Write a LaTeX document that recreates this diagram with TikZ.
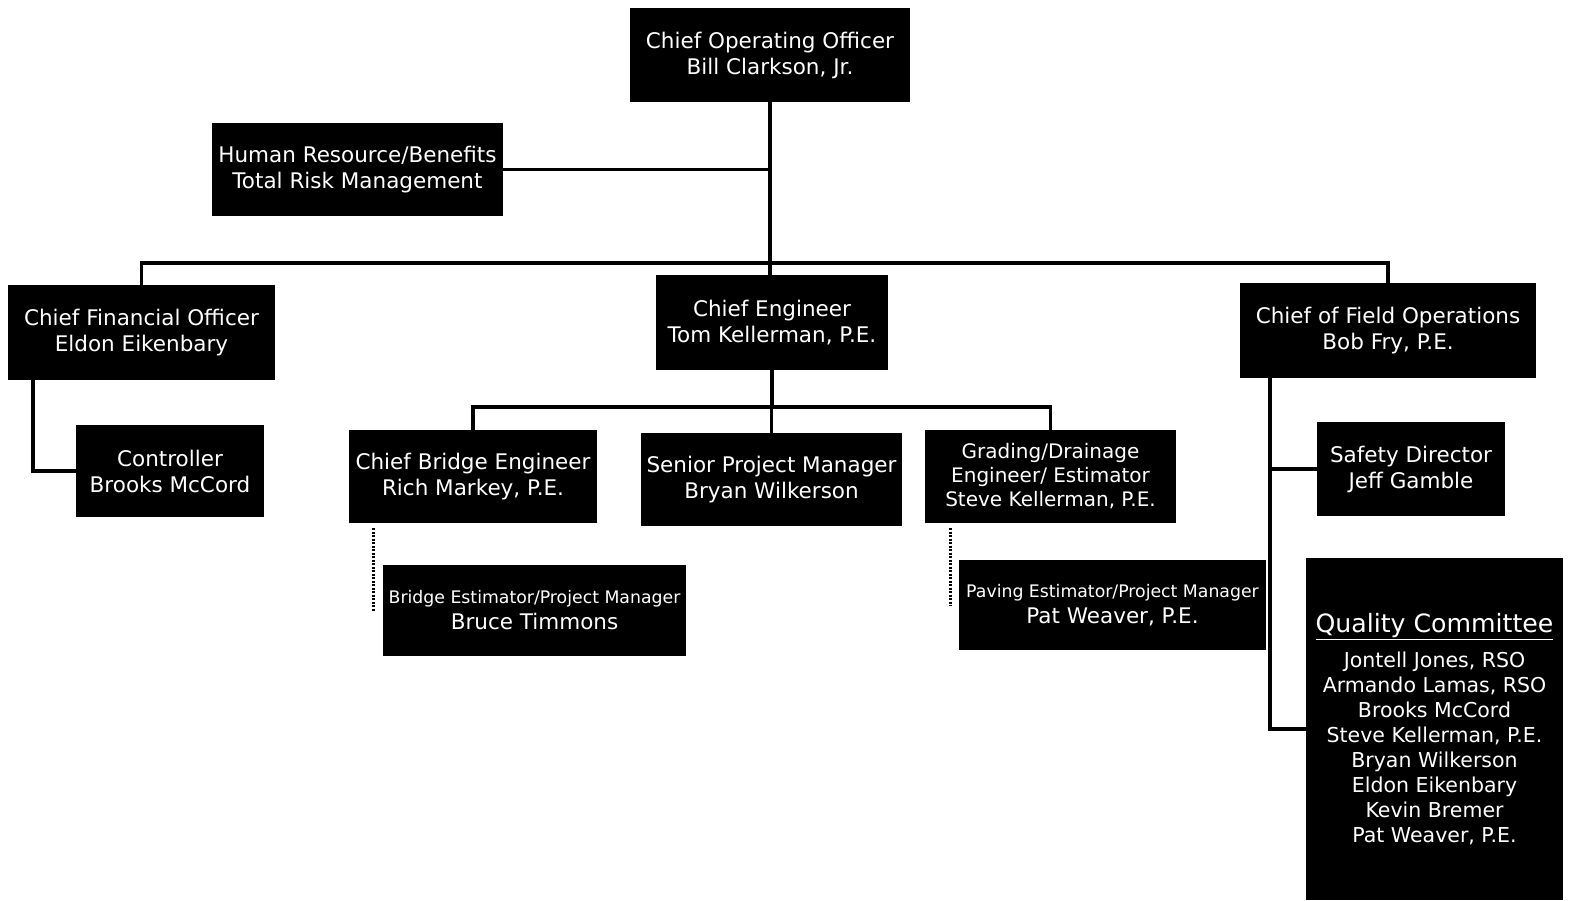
\documentclass[tikz,border=0pt]{standalone}
\usepackage{fontspec}
\setmainfont{DejaVu Sans}
\begin{document}
\begin{tikzpicture}[x=1pt,y=-1pt,
  box/.style={fill=black,text=white,align=center,inner sep=0pt,font=\fontsize{21.5}{26}\selectfont},
  conn/.style={line width=3.5pt},
  dotconn/.style={line width=3pt,dash pattern=on 2pt off 1.5pt}]
\useasboundingbox[fill=white] (0,0) rectangle (1570,900);
\node[box,minimum width=280,minimum height=94] (coo) at (770,55) {Chief Operating Officer\\Bill Clarkson, Jr.};
\node[box,minimum width=291,minimum height=93] (hr) at (357.5,169.5) {Human Resource/Benefits\\Total Risk Management};
\node[box,minimum width=267,minimum height=95] (cfo) at (141.5,332.5) {Chief Financial Officer\\Eldon Eikenbary};
\node[box,minimum width=232,minimum height=95] (ce) at (772,322.5) {Chief Engineer\\Tom Kellerman, P.E.};
\node[box,minimum width=296,minimum height=95] (cfd) at (1388,330.5) {Chief of Field Operations\\Bob Fry, P.E.};
\node[box,minimum width=188,minimum height=92] (ctrl) at (170,471) {Controller\\Brooks McCord};
\node[box,minimum width=248,minimum height=93] (cbe) at (473,476.5) {Chief Bridge Engineer\\Rich Markey, P.E.};
\node[box,minimum width=261,minimum height=93] (spm) at (771.5,479.5) {Senior Project Manager\\Bryan Wilkerson};
\node[box,minimum width=251,minimum height=93,font=\fontsize{20}{24}\selectfont] (gde) at (1050.5,476.5) {Grading/Drainage\\Engineer/ Estimator\\Steve Kellerman, P.E.};
\node[box,minimum width=303,minimum height=91] (be) at (534.5,610.5) {{\fontsize{17.3}{23}\selectfont Bridge Estimator/Project Manager}\\Bruce Timmons};
\node[box,minimum width=307,minimum height=90] (pe) at (1112.5,605) {{\fontsize{17.3}{23}\selectfont Paving Estimator/Project Manager}\\Pat Weaver, P.E.};
\node[box,minimum width=188,minimum height=94] (sd) at (1411,469) {Safety Director\\Jeff Gamble};
\node[box,minimum width=257,minimum height=342,font=\fontsize{20.5}{25}\selectfont] (qc) at (1434.5,729) {{\fontsize{25.2}{34}\selectfont\underline{Quality Committee}}\\[10pt]Jontell Jones, RSO\\Armando Lamas, RSO\\Brooks McCord\\Steve Kellerman, P.E.\\Bryan Wilkerson\\Eldon Eikenbary\\Kevin Bremer\\Pat Weaver, P.E.};
\coordinate (bar) at (770,263);
\coordinate (ebar) at (771,407);
\coordinate (cfoL) at (33,380);
\coordinate (fL) at (1270,378);
\coordinate (bdA) at (373,528);
\coordinate (bdB) at (373,612);
\coordinate (pdA) at (950,528);
\coordinate (pdB) at (950,606);
\draw[conn] (coo.south) -- (coo.south |- ce.north);
\draw[conn] (hr.east) -- (hr.east -| coo.south);
\draw[conn] (cfo.north) -- (cfo.north |- bar) -- (cfd.north |- bar) -- (cfd.north);
\draw[conn] (ce.south) -- (ce.south |- ebar);
\draw[conn] (cbe.north) -- (cbe.north |- ebar) -- (gde.north |- ebar) -- (gde.north);
\draw[conn] (spm.north) -- (spm.north |- ebar);
\draw[conn] (cfoL) |- (ctrl.west);
\draw[conn] (fL) |- (qc.west);
\draw[conn] (fL |- sd.west) -- (sd.west);
\draw[dotconn] (bdA) -- (bdB);
\draw[dotconn] (pdA) -- (pdB);
\end{tikzpicture}
\end{document}
